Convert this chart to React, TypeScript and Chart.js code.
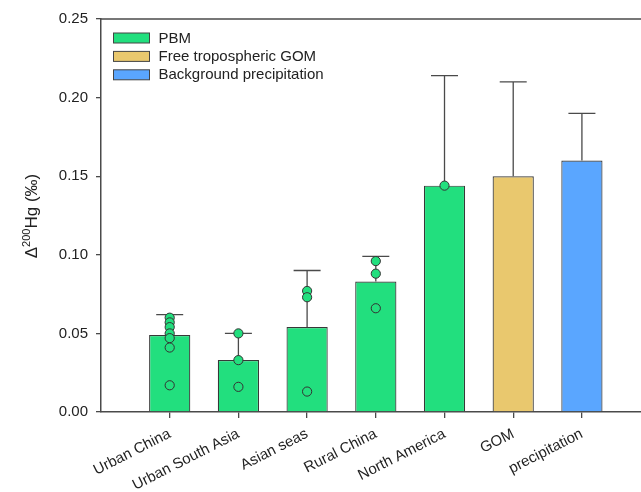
import React, { useEffect, useRef } from 'react';
import { Chart, registerables } from 'chart.js';
Chart.register(...registerables);

const categories = ['Urban China', 'Urban South Asia', 'Asian seas', 'Rural China', 'North America', 'GOM', 'precipitation'];
const barValues = [0.049, 0.033, 0.054, 0.083, 0.144, 0.150, 0.160];
const errorTops = [0.062, 0.050, 0.090, 0.099, 0.214, 0.210, 0.190];
const barGroup = [0, 0, 0, 0, 0, 1, 2];
const legendLabels = ['PBM', 'Free tropospheric GOM', 'Background precipitation'];
const groupColors = ['#22DF7E', '#E9C86E', '#5AA6FF'];
const pointValues = [
  [0.060, 0.057, 0.054, 0.050, 0.047, 0.041, 0.017],
  [0.050, 0.033, 0.016],
  [0.077, 0.073, 0.013],
  [0.096, 0.088, 0.066],
  [0.144],
  [],
  [],
];
const yTicks = [0, 0.05, 0.10, 0.15, 0.20, 0.25];

const FONT = "'Liberation Sans', Arial, sans-serif";
const AXIS = '#4a4a4a';
const TEXT = '#222222';

const decorPlugin = {
  id: 'decor',
  afterDatasetDraw(chart: any, args: any) {
    if (args.index !== 0) return;
    const { ctx, scales } = chart;
    const x = scales.x, y = scales.y;
    ctx.save();
    ctx.strokeStyle = AXIS;
    ctx.lineWidth = 1.3;
    categories.forEach((_, i) => {
      const px = x.getPixelForValue(i + 1);
      const y0 = y.getPixelForValue(barValues[i]);
      const y1 = y.getPixelForValue(errorTops[i]);
      ctx.beginPath();
      ctx.moveTo(px, y0);
      ctx.lineTo(px, y1);
      ctx.moveTo(px - 13.5, y1);
      ctx.lineTo(px + 13.5, y1);
      ctx.stroke();
    });
    ctx.restore();
  },
  afterDraw(chart: any) {
    const { ctx, chartArea } = chart;
    ctx.save();
    // top border
    ctx.strokeStyle = AXIS;
    ctx.lineWidth = 1.5;
    ctx.beginPath();
    ctx.moveTo(chartArea.left, chartArea.top);
    ctx.lineTo(chart.width, chartArea.top);
    ctx.stroke();
    // legend
    ctx.font = `15px ${FONT}`;
    ctx.textBaseline = 'middle';
    ctx.textAlign = 'left';
    legendLabels.forEach((lab, i) => {
      const bx = chartArea.left + 12.5;
      const cy = chartArea.top + 19 + i * 18.4;
      ctx.fillStyle = groupColors[i];
      ctx.fillRect(bx, cy - 5, 36, 10);
      ctx.strokeStyle = '#444';
      ctx.lineWidth = 1;
      ctx.strokeRect(bx, cy - 5, 36, 10);
      ctx.fillStyle = TEXT;
      ctx.fillText(lab, bx + 45, cy + 0.5);
    });
    // y axis title with superscript
    ctx.translate(31, 216);
    ctx.rotate(-Math.PI / 2);
    const big = `17px ${FONT}`;
    const small = `11px ${FONT}`;
    ctx.font = big;
    const w1 = ctx.measureText('Δ').width;
    const w3 = ctx.measureText('Hg (‰)').width;
    ctx.font = small;
    const w2 = ctx.measureText('200').width;
    let sx = -(w1 + w2 + w3) / 2;
    ctx.textBaseline = 'alphabetic';
    ctx.fillStyle = TEXT;
    ctx.font = big;
    ctx.fillText('Δ', sx, 6);
    sx += w1;
    ctx.font = small;
    ctx.fillText('200', sx, -1);
    sx += w2;
    ctx.font = big;
    ctx.fillText('Hg (‰)', sx, 6);
    ctx.restore();
  },
};

export default function App() {
  const ref = useRef<HTMLCanvasElement>(null);
  useEffect(() => {
    if (!ref.current) return;
    const scatterData: { x: number; y: number }[] = [];
    pointValues.forEach((arr, i) => arr.forEach((v) => scatterData.push({ x: i + 1, y: v })));
    const chart = new Chart(ref.current, {
      type: 'bar',
      data: {
        datasets: [
          {
            type: 'bar',
            data: barValues.map((v, i) => ({ x: i + 1, y: v })),
            backgroundColor: barGroup.map((g) => groupColors[g]),
            borderColor: '#383838',
            borderWidth: 1.2,
            borderSkipped: 'bottom',
            barPercentage: 0.6,
            categoryPercentage: 1,
            order: 2,
          } as any,
          {
            type: 'scatter',
            data: scatterData,
            pointRadius: 4.6,
            pointBackgroundColor: groupColors[0],
            pointBorderColor: '#333',
            pointBorderWidth: 1,
            order: 1,
          } as any,
        ],
      },
      options: {
        animation: false,
        responsive: true,
        maintainAspectRatio: false,
        layout: { autoPadding: false, padding: { top: 19, left: 0, right: 0, bottom: 0 } },
        plugins: { legend: { display: false }, tooltip: { enabled: false } },
        scales: {
          x: {
            type: 'linear',
            min: 0,
            max: 7.86,
            offset: false,
            afterBuildTicks: (s: any) => {
              s.ticks = categories.map((_, i) => ({ value: i + 1 }));
            },
            afterFit: (s: any) => {
              s.height = 80;
            },
            grid: { offset: false, drawOnChartArea: false, drawTicks: true, tickLength: 6, color: AXIS, lineWidth: 1.3 },
            border: { display: true, color: AXIS, width: 1.5 },
            ticks: {
              autoSkip: false,
              minRotation: 27,
              maxRotation: 27,
              padding: 7,
              color: TEXT,
              font: { family: FONT, size: 15 },
              callback: (v: any) => categories[Number(v) - 1] ?? '',
            },
          },
          y: {
            min: 0,
            max: 0.25,
            afterBuildTicks: (s: any) => {
              s.ticks = yTicks.map((v) => ({ value: v }));
            },
            afterFit: (s: any) => {
              s.width = 101;
            },
            grid: { drawOnChartArea: false, drawTicks: true, tickLength: 5, color: AXIS, lineWidth: 1.3 },
            border: { display: true, color: AXIS, width: 1.5 },
            ticks: {
              padding: 8,
              color: TEXT,
              font: { family: FONT, size: 15 },
              callback: (v: any) => Number(v).toFixed(2),
            },
          },
        },
      },
      plugins: [decorPlugin],
    });
    return () => chart.destroy();
  }, []);
  return (
    <div style={{ position: 'fixed', left: 0, top: 0, width: 641, height: 492, background: '#fff' }}>
      <canvas ref={ref} />
    </div>
  );
}
